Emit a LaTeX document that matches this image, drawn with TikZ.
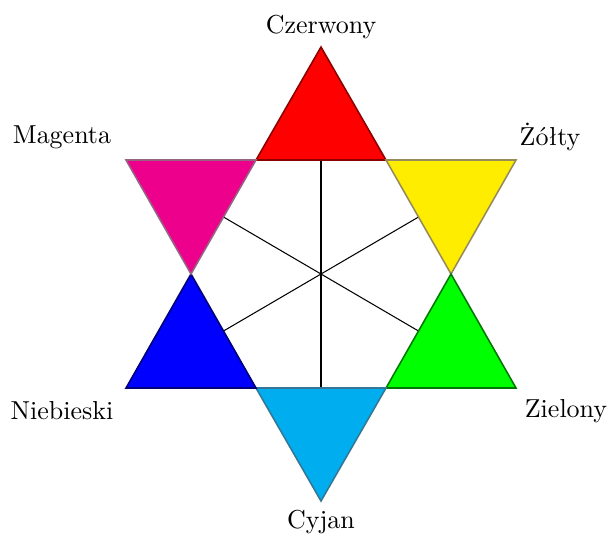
\documentclass[tikz,border=0pt]{standalone}
\usetikzlibrary{calc}
\begin{document}
\begin{tikzpicture}[x=0.385pt,y=-0.385pt,
  tri/.style={line width=0.6pt,line join=miter},
  spoke/.style={line width=0.4pt,draw=black},
  lab/.style={font=\normalsize,inner sep=0pt}]
\definecolor{cRed}{RGB}{255,0,0}
\definecolor{cYel}{RGB}{255,237,0}
\definecolor{cGrn}{RGB}{0,255,0}
\definecolor{cCya}{RGB}{0,174,239}
\definecolor{cBlu}{RGB}{0,0,255}
\definecolor{cMag}{RGB}{236,0,140}
\definecolor{bRed}{RGB}{140,0,0}
\definecolor{bYel}{RGB}{150,140,90}
\definecolor{bGrn}{RGB}{0,120,0}
\definecolor{bCya}{RGB}{50,120,150}
\definecolor{bBlu}{RGB}{0,0,120}
\definecolor{bMag}{RGB}{150,100,130}
\useasboundingbox (0,0) rectangle (613,536);
% hexagon vertices
\coordinate (O) at (321,274);
\coordinate (h1) at (256,160);
\coordinate (h2) at (386,160);
\coordinate (h3) at (451,274);
\coordinate (h4) at (386,388);
\coordinate (h5) at (256,388);
\coordinate (h6) at (191,274);
% star points
\coordinate (pT) at (321,47);
\coordinate (pTR) at (516,160);
\coordinate (pBR) at (516,388);
\coordinate (pB) at (321,501);
\coordinate (pBL) at (126,388);
\coordinate (pTL) at (126,160);
% spokes to edge midpoints
\draw[spoke] (O) -- ($(h1)!0.5!(h2)$);
\draw[spoke] (O) -- ($(h2)!0.5!(h3)$);
\draw[spoke] (O) -- ($(h3)!0.5!(h4)$);
\draw[spoke] (O) -- ($(h4)!0.5!(h5)$);
\draw[spoke] (O) -- ($(h5)!0.5!(h6)$);
\draw[spoke] (O) -- ($(h6)!0.5!(h1)$);
% triangles
\filldraw[tri,fill=cRed,draw=bRed] (h1) -- (pT) -- (h2) -- cycle;
\filldraw[tri,fill=cYel,draw=bYel] (h2) -- (pTR) -- (h3) -- cycle;
\filldraw[tri,fill=cGrn,draw=bGrn] (h3) -- (pBR) -- (h4) -- cycle;
\filldraw[tri,fill=cCya,draw=bCya] (h4) -- (pB) -- (h5) -- cycle;
\filldraw[tri,fill=cBlu,draw=bBlu] (h5) -- (pBL) -- (h6) -- cycle;
\filldraw[tri,fill=cMag,draw=bMag] (h6) -- (pTL) -- (h1) -- cycle;
% labels
\node[lab] (lR) at (321,27) {Czerwony};
\node[lab] (lY) at (550,137) {Żółty};
\node[lab] (lG) at (566,411) {Zielony};
\node[lab] (lC) at (321,522) {Cyjan};
\node[lab] (lB) at (62,411) {Niebieski};
\node[lab] (lM) at (62,137) {Magenta};
\end{tikzpicture}
\end{document}
